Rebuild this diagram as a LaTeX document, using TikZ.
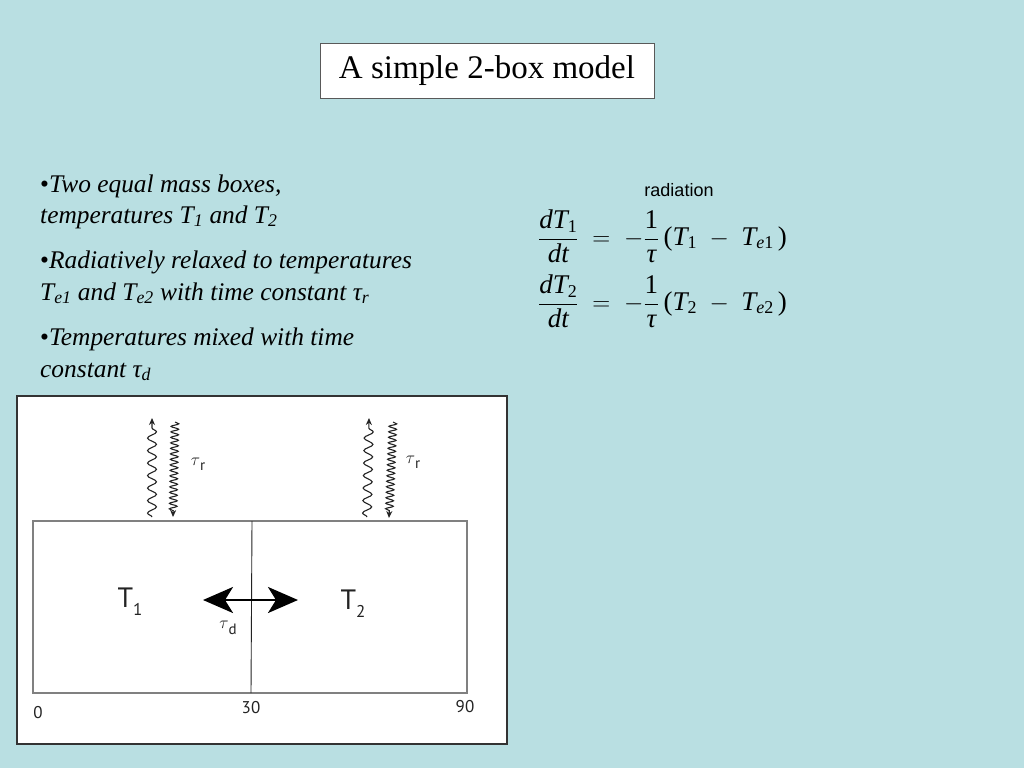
\documentclass[tikz,border=0pt]{standalone}
\usepackage{fontspec}
\setmainfont{Liberation Serif}
\newfontfamily\arialf{Liberation Sans}
\newfontfamily\diagf{PT Sans}
\usetikzlibrary{arrows.meta,decorations.pathmorphing}
\definecolor{bg}{RGB}{185,223,226}
\definecolor{ink}{RGB}{35,35,35}
\newcommand{\eqit}[1]{\mbox{\itshape #1}}
\newcommand{\eqsub}[1]{\mbox{\fontsize{18}{18}\selectfont #1}}
\tikzset{
  bullettext/.style={anchor=base west, inner sep=0pt, font=\fontsize{25.4}{28}\selectfont\itshape},
  eqn/.style={anchor=west, inner sep=0pt, font=\fontsize{27}{30}\selectfont},
  diaglabel/.style={inner sep=0pt, text=ink, font=\diagf\fontsize{28}{30}\selectfont},
  axislabel/.style={inner sep=0pt, text=ink, font=\diagf\fontsize{17}{18}\selectfont},
  taulabel/.style={inner sep=0pt, text=ink, font=\fontsize{17}{18}\selectfont},
  wavyup/.style={ink, line width=1.1pt, decorate, decoration={snake, segment length=12.5pt, amplitude=4.5pt, post length=5pt},
    -{Stealth[length=7pt,width=6pt]}},
  wavydown/.style={ink, line width=1.1pt, decorate, decoration={snake, segment length=5.5pt, amplitude=3.8pt, post length=5pt},
    -{Stealth[length=7pt,width=6pt]}},
  bigarrow/.style={line width=2.6pt, {Stealth[length=30pt,width=26pt,inset=8pt]}-{Stealth[length=30pt,width=26pt,inset=8pt]}}
}
\begin{document}
\begin{tikzpicture}[x=1pt,y=-1pt]
\fill[bg] (0,0) rectangle (1024,768);
\useasboundingbox (0,0) rectangle (1024,768);

% title
\node[draw=black!65, fill=white, line width=1pt, minimum width=334pt, minimum height=54pt,
      inner sep=0pt, font=\fontsize{33}{36}\selectfont] (title) at (487,71) {A simple 2-box model};

% bullet text
\node[bullettext] (b1) at (40,192) {{\upshape\textbullet}Two equal mass boxes,};
\node[bullettext] (b2) at (40,223) {temperatures T\textsubscript{1} and T\textsubscript{2}};
\node[bullettext] (b3) at (40,268) {{\upshape\textbullet}Radiatively relaxed to temperatures};
\node[bullettext] (b4) at (40,300) {T\textsubscript{e1} and T\textsubscript{e2} with time constant τ\textsubscript{r}};
\node[bullettext] (b5) at (40,345) {{\upshape\textbullet}Temperatures mixed with time};
\node[bullettext] (b6) at (40,377) {constant τ\textsubscript{d}};

% equations
\node[inner sep=0pt, font=\arialf\fontsize{18}{20}\selectfont] (rad) at (679,190) {radiation};
\node[eqn] (eq1) at (538,236) {$\displaystyle\frac{\eqit{dT}_{\eqsub{1}}}{\eqit{dt}} \;=\; -\frac{\mbox{1}}{\eqit{τ}}\,\mbox{(}\eqit{T}_{\eqsub{1}} \;-\; \eqit{T}_{\eqsub{\itshape e\upshape 1}}\,\mbox{)}$};
\node[eqn] (eq2) at (538,301) {$\displaystyle\frac{\eqit{dT}_{\eqsub{2}}}{\eqit{dt}} \;=\; -\frac{\mbox{1}}{\eqit{τ}}\,\mbox{(}\eqit{T}_{\eqsub{2}} \;-\; \eqit{T}_{\eqsub{\itshape e\upshape 2}}\,\mbox{)}$};

% diagram panel
\node[draw=black!80, fill=white, line width=1.6pt, minimum width=490pt, minimum height=348pt,
      inner sep=0pt] (panel) at (262,570) {};
\node[draw=black!50, line width=1.4pt, minimum width=434pt, minimum height=172pt, inner sep=0pt]
      (boxes) at (250,607) {};
\coordinate (divtop) at (252,521);
\coordinate (divbot) at (251,693);
\draw[ink, line width=0.9pt] (divtop) -- (divbot);

% labels in boxes
\node[diaglabel] (t1) at (130,602) {T\raisebox{-8pt}{\fontsize{17}{17}\selectfont 1}};
\node[diaglabel] (t2) at (353,604) {T\raisebox{-8pt}{\fontsize{17}{17}\selectfont 2}};
\coordinate (ml) at (203,600);
\coordinate (mr) at (298,600);
\draw[bigarrow] (ml) -- (mr);
\node[taulabel] (taud) at (228,628) {$\tau$\raisebox{-6pt}{\diagf\fontsize{15}{15}\selectfont d}};

% axis labels
\node[axislabel] (x0) at (38,713) {0};
\node[axislabel] (x30) at (251,708) {30};
\node[axislabel] (x90) at (465,707) {90};

% wavy arrows, left
\coordinate (lu0) at (152,517);
\coordinate (lu1) at (152,418);
\coordinate (ld0) at (175,422);
\coordinate (ld1) at (173,517);
\draw[wavyup] (lu0) -- (lu1);
\draw[wavydown] (ld0) -- (ld1);
\node[taulabel] (taur1) at (198,464) {$\tau$\raisebox{-5pt}{\diagf\fontsize{15}{15}\selectfont r}};

% wavy arrows, right
\coordinate (ru0) at (367,517);
\coordinate (ru1) at (369,418);
\coordinate (rd0) at (393,422);
\coordinate (rd1) at (389,518);
\draw[wavyup] (ru0) -- (ru1);
\draw[wavydown] (rd0) -- (rd1);
\node[taulabel] (taur2) at (413,462) {$\tau$\raisebox{-5pt}{\diagf\fontsize{15}{15}\selectfont r}};
\end{tikzpicture}
\end{document}
